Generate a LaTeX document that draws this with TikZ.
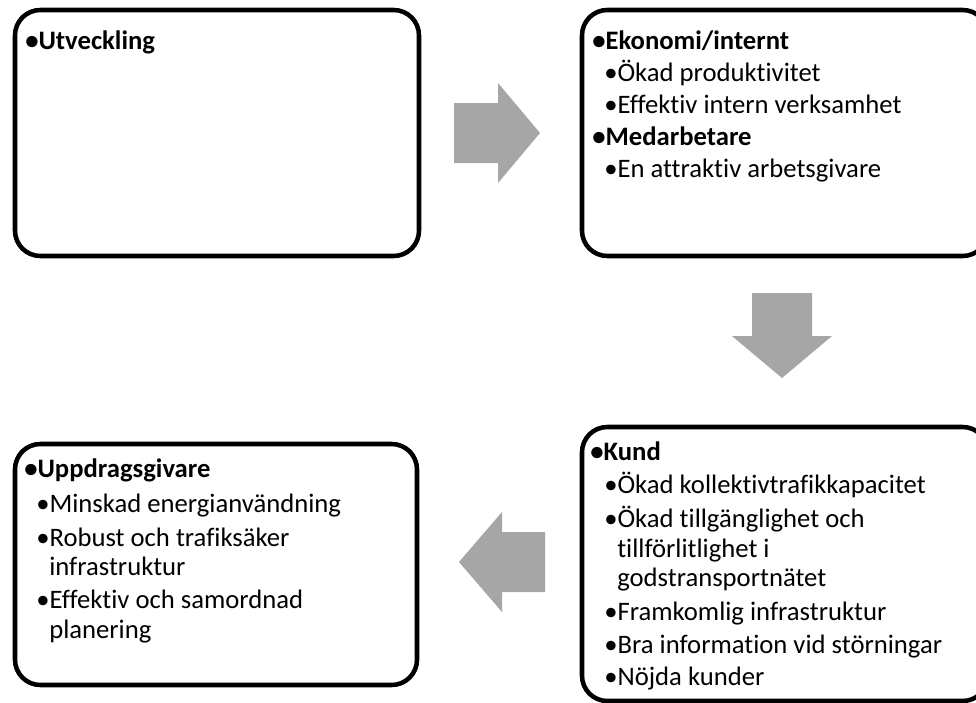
\documentclass[tikz,border=0pt]{standalone}
\usepackage{fontspec}
\setmainfont{Carlito}[Ligatures=NoCommon]
\usetikzlibrary{calc}
\definecolor{arrowgray}{HTML}{A6A6A6}
\newcommand{\blt}{\makebox[10pt][l]{•}}
\tikzset{
  box/.style={draw=black, line width=3.4pt, rounded corners=19pt, inner sep=0pt},
  itm/.style={anchor=base west, inner sep=0pt, font=\fontsize{20}{24}\selectfont},
  hdr/.style={itm, font=\fontsize{20}{24}\selectfont\bfseries},
  garrow/.style={fill=arrowgray, draw=none}
}

\begin{document}
\begin{tikzpicture}[x=0.75pt, y=-0.75pt]
\useasboundingbox (0,0) rectangle (976,703);
% the four boxes
\node[box, minimum width=303pt, minimum height=184.5pt] (utv) at (217,133) {};
\node[box, minimum width=304.5pt, minimum height=184.5pt] (eko) at (785,133) {};
\node[box, minimum width=304.5pt, minimum height=205.5pt] (kund) at (785,564) {};
\node[box, minimum width=301.5pt, minimum height=180.75pt] (upp) at (216,564.5) {};
% block arrows
\coordinate (a1) at (454,133);
\fill[garrow] (a1) -- ++(0,-30) -- ++(44,0) -- ++(0,-20) -- ++(42,50)
  -- ++(-42,50) -- ++(0,-20) -- ++(-44,0) -- cycle;
\coordinate (a2) at (782,293);
\fill[garrow] (a2) -- ++(30,0) -- ++(0,43) -- ++(20,0) -- ++(-50,42)
  -- ++(-50,-42) -- ++(20,0) -- ++(0,-43) -- cycle;
\coordinate (a3) at (545,562);
\fill[garrow] (a3) -- ++(0,-30) -- ++(-43,0) -- ++(0,-20) -- ++(-43,50)
  -- ++(43,50) -- ++(0,-20) -- ++(43,0) -- cycle;
% Utveckling
\node[hdr] (t1) at (25,49) {\blt Utveckling};
% Ekonomi/internt, Medarbetare
\node[hdr] (e1) at (592,49) {\blt Ekonomi/internt};
\node[itm] (e2) at (604,81) {\blt Ökad produktivitet};
\node[itm] (e3) at (604,113) {\blt Effektiv intern verksamhet};
\node[hdr] (e4) at (592,145) {\blt Medarbetare};
\node[itm] (e5) at (604,177) {\blt En attraktiv arbetsgivare};
% Kund
\node[hdr] (k1) at (590,460) {\blt Kund};
\node[itm] (k2) at (604,493) {\blt Ökad kollektivtrafikkapacitet};
\node[itm] (k3) at (604,527) {\blt Ökad tillgänglighet och};
\node[itm] (k4) at (617,557) {tillförlitlighet i};
\node[itm] (k5) at (617,586) {godstransportnätet};
\node[itm] (k6) at (604,620) {\blt Framkomlig infrastruktur};
\node[itm] (k7) at (604,653) {\blt Bra information vid störningar};
\node[itm] (k8) at (604,685) {\blt Nöjda kunder};
% Uppdragsgivare
\node[hdr] (u1) at (24,477) {\blt Uppdragsgivare};
\node[itm] (u2) at (36,512) {\blt Minskad energianvändning};
\node[itm] (u3) at (36,546) {\blt Robust och trafiksäker};
\node[itm] (u4) at (49,575) {infrastruktur};
\node[itm] (u5) at (36,608) {\blt Effektiv och samordnad};
\node[itm] (u6) at (49,638) {planering};
\end{tikzpicture}
\end{document}
